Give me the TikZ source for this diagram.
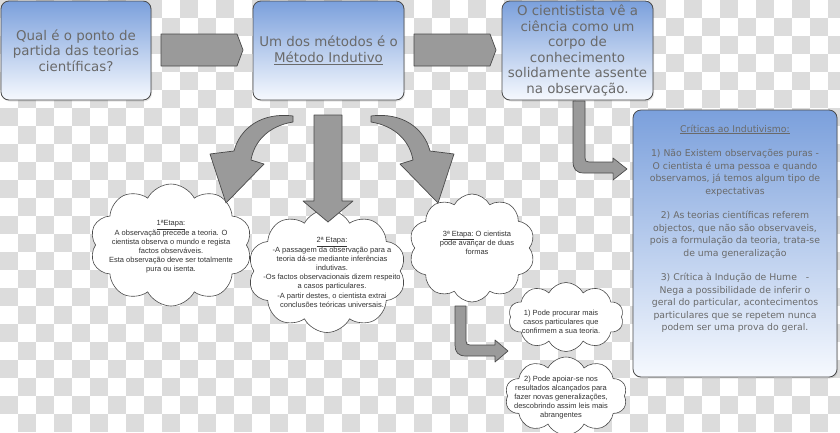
\documentclass[tikz,border=0pt]{standalone}
\usepackage{fontspec}
\setmainfont{DejaVu Sans}
\newfontfamily\arialf{Liberation Sans}
\usetikzlibrary{shapes.symbols,shadows}
\newcommand\mylsk{\lineskiplimit=-20pt\relax}
\definecolor{boxtop}{HTML}{7BA0DC}
\definecolor{boxbot}{HTML}{F6F9FE}
\definecolor{txtgray}{HTML}{6A6A6A}
\definecolor{edgegray}{HTML}{4A4A4A}
\definecolor{arrowfill}{HTML}{9A9A9A}
\definecolor{bgsquare}{HTML}{DCDCDC}
\begin{document}
\begin{tikzpicture}[x=1pt,y=-1pt,
  bluebox/.style={draw=edgegray, line width=0.8pt, rounded corners=8pt,
    top color=boxtop, bottom color=boxbot, text=txtgray, align=center,
    font=\fontsize{13.4}{15.6}\selectfont\mylsk, inner sep=0pt,
    drop shadow={opacity=0.2,shadow xshift=1pt,shadow yshift=-1.5pt}},
  blockarrow/.style={draw=edgegray, fill=arrowfill, line width=0.7pt, line join=round},
  cloudshape/.style={cloud, cloud puffs=10, cloud puff arc=125, cloud ignores aspect,
    draw=edgegray, fill=white, line width=0.6pt, inner sep=0pt},
  cloudtext/.style={font=\arialf\fontsize{7.5}{9.2}\selectfont\mylsk, text=black!80,
    align=center, inner sep=0pt}]
\useasboundingbox (0,0) rectangle (840,432);
\clip (0,0) rectangle (840,432);
\fill[white] (0,0) rectangle (840,432);
% checkerboard background
\foreach \j in {0,...,23}{
  \foreach \i in {0,...,46}{
    \ifodd\numexpr\i+\j\relax\else
      \fill[bgsquare] (\i*18,\j*18) rectangle (\i*18+18,\j*18+18);
    \fi
  }
}
% top boxes
\node[bluebox, minimum width=150pt, minimum height=99pt] (q) at (76,50.5)
  {Qual é o ponto de\\partida das teorias\\científicas?};
\node[bluebox, minimum width=151pt, minimum height=99pt] (m) at (328.5,50.5)
  {Um dos métodos é o\\\underline{Método Indutivo}};
\node[bluebox, minimum width=151pt, minimum height=99pt] (o) at (577.5,50.5)
  {O cientistista vê a\\ciência como um\\corpo de\\conhecimento\\solidamente assente\\na observação.};
% criticism box
\node[bluebox, minimum width=204pt, minimum height=267pt] (cr) at (735,243.5) {};
\node[text=txtgray, align=center, inner sep=0pt, anchor=north,
  font=\fontsize{9.3}{12.4}\selectfont\mylsk] (crt) at (735,124.5)
  {\underline{Críticas ao Indutivismo:}\\[12.4pt]
   1) Não Existem observações puras -\\O cientista é uma pessoa e quando\\observamos, já temos algum tipo de\\expectativas\\[12.4pt]
   2) As teorias científicas referem\\objectos, que não são observaveis,\\pois a formulação da teoria, trata-se\\de uma generalização\\[12.4pt]
   3) Crítica à Indução de Hume \ \ -\\Nega a possibilidade de inferir o\\geral do particular, acontecimentos\\particulares que se repetem nunca\\podem ser uma prova do geral.};
% clouds
\node[cloudshape, minimum width=162pt, minimum height=122pt] (c1) at (171,245) {};
\node[cloudshape, minimum width=126pt, minimum height=108pt] (c3) at (472,248) {};
\node[cloudshape, minimum width=158pt, minimum height=123pt] (c2) at (327,271) {};
\node[cloudshape, minimum width=115pt, minimum height=69pt] (c4) at (566,317) {};
\node[cloudshape, minimum width=122pt, minimum height=78pt] (c5) at (566,396) {};
\node[cloudtext] (t1) at (171,247)
  {\underline{1ªEtapa:}\\A observação precede a teoria. O\\cientista observa o mundo e regista\\factos observáveis.\\Esta observação deve ser totalmente\\pura ou isenta.};
\node[cloudtext] (t2) at (332,272.5)
  {\underline{2ª Etapa:}\\-A passagem da observação para a\\teoria dá-se mediante inferências\\indutivas.\\-Os factos observacionais dizem respeito\\a casos particulares.\\-A partir destes, o cientista extrai\\conclusões teóricas universais.};
\node[cloudtext] (t3) at (477,243)
  {\underline{3ª Etapa:} O cientista\\pode avançar de duas\\formas};
\node[cloudtext] (t4) at (561,322)
  {1) Pode procurar mais\\casos particulares que\\confirmem a sua teoria.};
\node[cloudtext] (t5) at (561,397.5)
  {2) Pode apoiar-se nos\\resultados alcançados para\\fazer novas generalizações,\\descobrindo assim leis mais\\abrangentes};
% straight block arrows
\draw[blockarrow] (161,34) -- (237,34) -- (243,50) -- (237,66) -- (161,66) -- cycle;
\draw[blockarrow] (414,34) -- (490,34) -- (496,50) -- (490,66) -- (414,66) -- cycle;
% down arrow
\draw[blockarrow] (314,115) -- (342,115) -- (342,201) -- (353,201) -- (328,222)
  -- (303,201) -- (314,201) -- cycle;
% curved arrows
\draw[blockarrow] (293,116) .. controls (262,112) and (240,128) .. (234,151)
  -- (210,154) -- (226,203) -- (264,164) -- (251,160)
  .. controls (254,142) and (268,126) .. (293,122) -- cycle;
\draw[blockarrow] (371,116) .. controls (402,112) and (424,128) .. (430,151)
  -- (454,154) -- (438,203) -- (400,164) -- (413,160)
  .. controls (410,142) and (396,126) .. (371,122) -- cycle;
% bent arrows
\draw[blockarrow] (573,101) -- (573,161) .. controls (573,169) and (576,173) .. (584,173)
  -- (613,173) -- (613,180) -- (627,169) -- (613,158) -- (613,162) -- (589,162)
  .. controls (586,162) and (585,161) .. (585,158) -- (585,101) -- cycle;
\draw[blockarrow] (455,306) -- (455,345) .. controls (455,352) and (458,356) .. (466,356)
  -- (495,356) -- (495,362) -- (508,351) -- (495,340) -- (495,345) -- (470,345)
  .. controls (467,345) and (466,344) .. (466,341) -- (466,306) -- cycle;
\end{tikzpicture}
\end{document}
